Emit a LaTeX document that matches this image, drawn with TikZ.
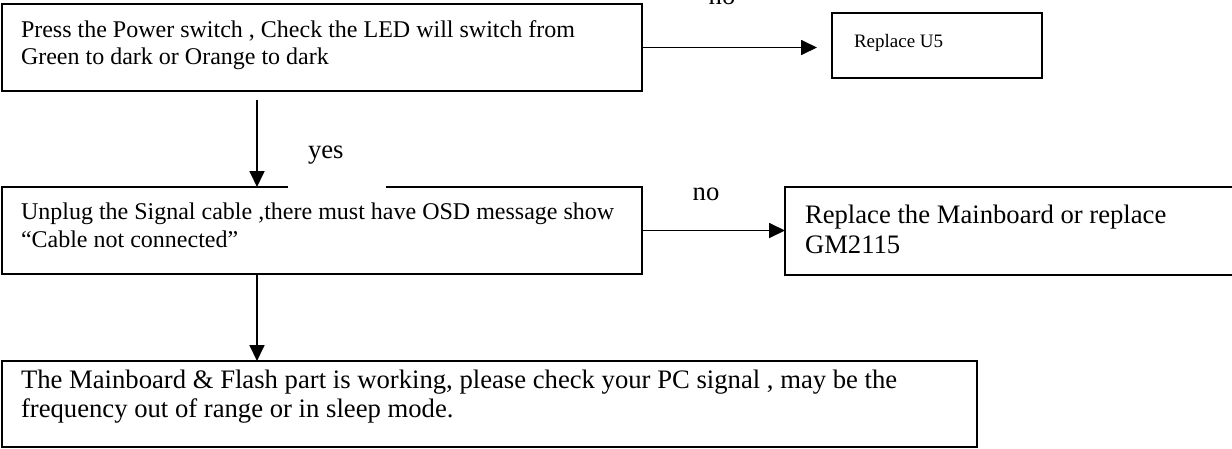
\documentclass[tikz,border=0pt]{standalone}
\usepackage{fontspec}
\setmainfont{Liberation Serif}
\usetikzlibrary{arrows.meta,calc}
\tikzset{
  box/.style={draw=black, line width=1.8pt, inner sep=0pt, outer sep=0pt, anchor=north west},
  txt/.style={inner sep=0pt, outer sep=0pt, anchor=north west, align=left},
  lbl/.style={inner sep=0pt, outer sep=0pt, anchor=base, font=\fontsize{26.67}{30}\selectfont},
  arr/.style={line width=1.8pt, -{Triangle[length=16pt,width=15pt]}},
}
\begin{document}
\begin{tikzpicture}[x=1pt,y=-1pt]
\useasboundingbox (0,0) rectangle (1232,448);
\clip (0,0) rectangle (1232,448);

% boxes
\node[box, minimum width=640pt, minimum height=87pt] (b1) at (2,4) {};
\node[box, minimum width=210pt, minimum height=65pt] (u5) at (832,13) {};
\node[box, minimum width=640pt, minimum height=87pt] (b2) at (2,187) {};
\node[box, minimum width=470pt, minimum height=88pt] (b3) at (785,187) {};
\node[box, minimum width=975pt, minimum height=86pt] (b4) at (2,361) {};

% white frame behind the "yes" label, cutting the top edge of the second box
\fill[white] (288,183) rectangle (386,191);

% box texts
\node[txt, font=\fontsize{24}{27}\selectfont] (t1) at (21,20.6)
  {Press the Power switch , Check the LED will switch from\\Green to dark or Orange to dark};
\node[txt, font=\fontsize{19}{22}\selectfont] (t5) at (854,34) {Replace U5};
\node[txt, font=\fontsize{24}{28}\selectfont] (t2) at (21,202.6)
  {Unplug the Signal cable ,there must have OSD message show\\“Cable not connected”};
\node[txt, font=\fontsize{26.67}{30}\selectfont] (t3) at (805,204.8)
  {Replace the Mainboard or replace\\GM2115};
\node[txt, font=\fontsize{26.67}{29}\selectfont] (t4) at (21,369.8)
  {The Mainboard \& Flash part is working, please check your PC signal , may be the\\frequency out of range or in sleep mode.};

% branch labels
\node[lbl] (no1) at (722,4) {no};
\node[lbl, anchor=base west] (yes) at (308,158) {yes};
\node[lbl] (no2) at (706,200) {no};

% connectors
\coordinate (a1e) at (817,47.5);
\coordinate (a2s) at (257,100);
\draw[arr] (b1.east) -- (a1e);
\draw[arr] (a2s) -- (a2s |- b2.north);
\draw[arr] (b2.east) -- (b2.east -| b3.west);
\draw[arr] (b2.south -| a2s) -- (b4.north -| a2s);
\end{tikzpicture}
\end{document}
